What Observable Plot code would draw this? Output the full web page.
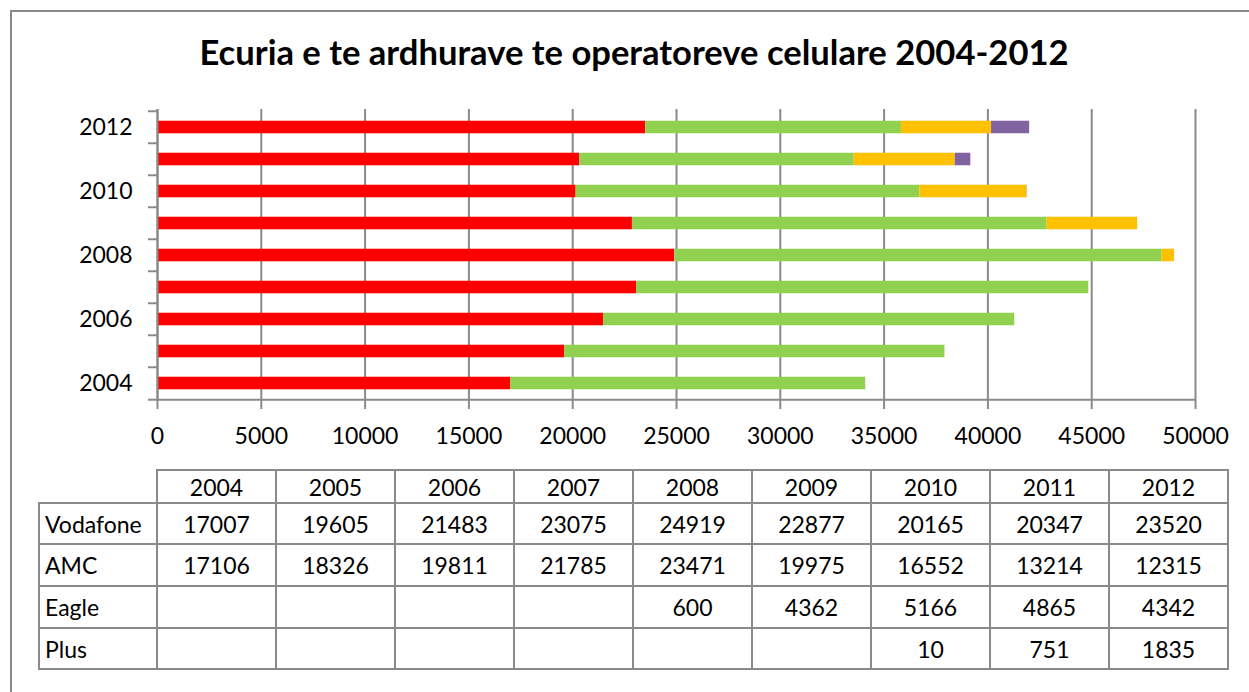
<!DOCTYPE html>
<html>
<head>
<meta charset="utf-8">
<script src="https://cdn.jsdelivr.net/npm/d3@7"></script>
<script src="https://cdn.jsdelivr.net/npm/@observablehq/plot@0.6"></script>
<style>
  html, body { margin: 0; padding: 0; background: #fff; }
  #wrap { position: relative; width: 1249px; height: 692px; overflow: hidden; background: #fff; font-family: Lato, "Open Sans", sans-serif; }
  #frame { position: absolute; left: 10px; top: 10px; width: 1300px; height: 800px; border-left: 2px solid #8a8a8a; border-top: 2px solid #8a8a8a; box-sizing: border-box; }
  #title { position: absolute; left: 0; top: 35px; width: 1268px; text-align: center; font-weight: bold; font-size: 34.6px; line-height: 1; color: #000; white-space: nowrap; z-index: 2; }
  #chart { position: absolute; left: 0; top: 0; z-index: 1; }
  #chart svg { background: transparent; overflow: visible; }
  .cell { position: absolute; box-sizing: border-box; border: 2px solid #8a8a8a; display: flex; align-items: center; justify-content: center; font-size: 23px; color: #000; z-index: 1; }
  .cell.lab { justify-content: flex-start; padding-left: 5px; }
</style>
</head>
<body>
<div id="wrap">
  <div id="frame"></div>
  <div id="title">Ecuria e te ardhurave te operatoreve celulare 2004-2012</div>
  <div id="chart"></div>
  <div id="table"></div>
</div>
<script>
// ---- data ----
const years = ["2004","2005","2006","2007","2008","2009","2010","2011","2012"];
const operators = ["Vodafone","AMC","Eagle","Plus"];
const vodafone = [17007, 19605, 21483, 23075, 24919, 22877, 20165, 20347, 23520];
const amc      = [17106, 18326, 19811, 21785, 23471, 19975, 16552, 13214, 12315];
const eagle    = [null, null, null, null, 600, 4362, 5166, 4865, 4342];
const plus     = [null, null, null, null, null, null, 10, 751, 1835];
const colors = ["#FF0000", "#92D050", "#FFC000", "#8064A2"];
const xTicks = [0, 5000, 10000, 15000, 20000, 25000, 30000, 35000, 40000, 45000, 50000];
const yLabelTicks = ["2004","2006","2008","2010","2012"];

const series = [vodafone, amc, eagle, plus];
const rows = [];
years.forEach((y, i) => {
  operators.forEach((op, j) => {
    const v = series[j][i];
    if (v != null) rows.push({year: y, op, value: v});
  });
});

// ---- layout ----
const W = 1249, H = 460;
const mTop = 109, mBottom = 59, mLeft = 157, mRight = 54;
const step = (H - mTop - mBottom) / years.length;
const inset = step * 0.3;
const grey = "#8a8a8a";
const font = "Lato, 'Open Sans', sans-serif";

const chart = Plot.plot({
  width: W,
  height: H,
  marginTop: mTop,
  marginBottom: mBottom,
  marginLeft: mLeft,
  marginRight: mRight,
  style: {fontFamily: font, fontSize: "23px", color: "#000", background: "transparent"},
  x: {domain: [0, 50000]},
  y: {domain: years.slice().reverse(), padding: 0},
  color: {domain: operators, range: colors},
  marks: [
    Plot.gridX(xTicks, {stroke: grey, strokeOpacity: 1, strokeWidth: 2}),
    Plot.barX(rows, Plot.stackX({x: "value", y: "year", fill: "op", order: operators, insetTop: inset, insetBottom: inset})),
    Plot.ruleX([0], {stroke: grey, strokeWidth: 2}),
    Plot.ruleY([years[0]], {stroke: grey, strokeWidth: 2, dy: step / 2}),
    Plot.axisX({ticks: xTicks, tickSize: 8, tickPadding: 18, stroke: grey, strokeWidth: 2, tickFormat: d => String(d), fontSize: 23, label: null}),
    Plot.axisY({ticks: years, tickSize: 9, tickFormat: () => "", stroke: grey, strokeWidth: 2, dy: -step / 2, label: null}),
    Plot.axisY({ticks: [years[0]], tickSize: 9, tickFormat: () => "", stroke: grey, strokeWidth: 2, dy: step / 2, label: null}),
    Plot.axisY({ticks: yLabelTicks, tickSize: 0, tickPadding: 25, fontSize: 23, label: null})
  ]
});
document.getElementById("chart").appendChild(chart);

// ---- data table ----
const table = document.getElementById("table");
const colEdges = [39, 157];
for (let k = 1; k <= years.length; k++) colEdges.push(157 + 119 * k);
const rowEdges = [470, 503, 544, 586, 628, 669];
function cell(text, c, r, cls) {
  const d = document.createElement("div");
  d.className = "cell" + (cls ? " " + cls : "");
  d.style.left = (colEdges[c] - 1) + "px";
  d.style.top = (rowEdges[r] - 1) + "px";
  d.style.width = (colEdges[c + 1] - colEdges[c] + 2) + "px";
  d.style.height = (rowEdges[r + 1] - rowEdges[r] + 2) + "px";
  d.textContent = text;
  table.appendChild(d);
}
years.forEach((y, i) => cell(y, i + 1, 0));
operators.forEach((op, j) => {
  cell(op, 0, j + 1, "lab");
  years.forEach((y, i) => {
    const v = series[j][i];
    cell(v == null ? "" : String(v), i + 1, j + 1);
  });
});
</script>
</body>
</html>
